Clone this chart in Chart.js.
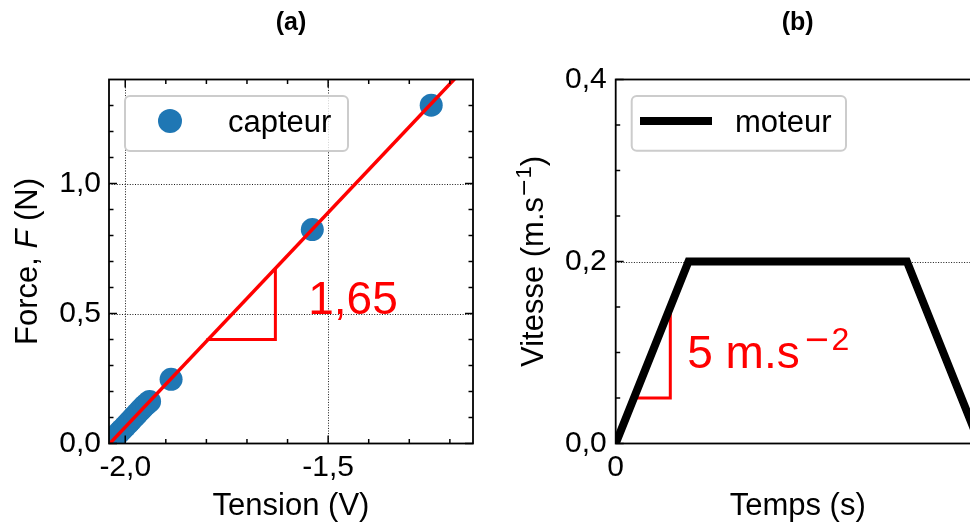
<!DOCTYPE html>
<html><head><meta charset="utf-8">
<script src="https://cdn.jsdelivr.net/npm/chart.js@4.4.1/dist/chart.umd.min.js"></script>
<style>
html,body{margin:0;padding:0;background:#fff;}
body{width:970px;height:524px;overflow:hidden;position:relative;}
canvas{position:absolute;top:0;}
#cA{left:0;} #cB{left:495px;}
</style></head><body>
<canvas id="cA" width="495" height="524"></canvas>
<canvas id="cB" width="530" height="524"></canvas>
<script>
// ---------- Panel (a): capteur ----------
const tensionV = [-2.030, -2.022, -2.015, -2.008, -2.000, -1.992, -1.985, -1.977, -1.970, -1.962, -1.955, -1.947, -1.940, -1.887, -1.539, -1.246];
const forceN   = [0.018, 0.030, 0.042, 0.053, 0.066, 0.079, 0.091, 0.104, 0.116, 0.129, 0.141, 0.152, 0.162, 0.247, 0.823, 1.301];
const fitTension = [-2.04, -1.143];
const fitForce   = [-0.003, 1.477];
const triTensionA = [-1.80, -1.63, -1.63];
const triForceA   = [0.40, 0.40, 0.676];
const slopeTextA = '1,65';
const xMajorA = [-2.0, -1.5];
const xTickLabelsA = ['-2,0', '-1,5'];
const xMinorA = [-1.9, -1.8, -1.7, -1.6, -1.4, -1.3, -1.2];
const yMajorA = [0, 0.5, 1.0];
const yTickLabelsA = ['0,0', '0,5', '1,0'];
const yMinorA = [0.1, 0.2, 0.3, 0.4, 0.6, 0.7, 0.8, 0.9, 1.1, 1.2, 1.3];

// ---------- Panel (b): moteur ----------
const tempsS  = [0, 0.04, 0.16, 0.20];
const vitesse = [0, 0.20, 0.20, 0];
const triTempsB = [0.011, 0.03, 0.03];
const triVitesseB = [0.05, 0.05, 0.15];
const xMajorB = [0];
const xTickLabelsB = ['0'];
const yMajorB = [0, 0.2, 0.4];
const yTickLabelsB = ['0,0', '0,2', '0,4'];
const yMinorB = [0.05, 0.10, 0.15, 0.25, 0.30, 0.35];

const FONT = "'Liberation Sans', Arial, Helvetica, sans-serif";
const MATHFONT = "'DejaVu Sans', sans-serif";
Chart.defaults.font.family = FONT;
Chart.defaults.color = '#000';

function setFont(ctx, size, style, fam) { ctx.font = ((style || '') + ' ' + size + 'px ' + (fam || FONT)).trim(); }
function runsWidth(ctx, runs) {
  let w = 0;
  for (const r of runs) { setFont(ctx, r.size, r.style, r.fam); w += ctx.measureText(r.text).width + (r.gap || 0); }
  return w;
}
function drawRuns(ctx, runs, x, y, align) {
  const w = runsWidth(ctx, runs);
  let cx = align === 'center' ? x - w / 2 : (align === 'right' ? x - w : x);
  ctx.textAlign = 'left'; ctx.textBaseline = 'alphabetic';
  for (const r of runs) {
    setFont(ctx, r.size, r.style, r.fam);
    ctx.fillText(r.text, cx, y - (r.rise || 0));
    cx += ctx.measureText(r.text).width + (r.gap || 0);
  }
}
function seg(ctx, x1, y1, x2, y2) { ctx.beginPath(); ctx.moveTo(x1, y1); ctx.lineTo(x2, y2); ctx.stroke(); }
function roundRect(ctx, x, y, w, h, r) {
  ctx.beginPath();
  ctx.moveTo(x + r, y); ctx.lineTo(x + w - r, y); ctx.arcTo(x + w, y, x + w, y + r, r);
  ctx.lineTo(x + w, y + h - r); ctx.arcTo(x + w, y + h, x + w - r, y + h, r);
  ctx.lineTo(x + r, y + h); ctx.arcTo(x, y + h, x, y + h - r, r);
  ctx.lineTo(x, y + r); ctx.arcTo(x, y, x + r, y, r); ctx.closePath();
}

function decor(spec) {
  return {
    id: 'decor' + spec.id,
    beforeDatasetsDraw(chart) {
      const { ctx, chartArea: a, scales: { x, y } } = chart;
      ctx.save();
      ctx.beginPath(); ctx.rect(a.left, a.top, a.width, a.height); ctx.clip();
      ctx.strokeStyle = 'rgba(0,0,0,0.9)'; ctx.lineWidth = 1; ctx.setLineDash([1, 1.6]);
      for (const v of spec.gridX) { const p = Math.round(x.getPixelForValue(v)) + 0.5; seg(ctx, p, a.top, p, a.bottom); }
      for (const v of spec.gridY) { const p = Math.round(y.getPixelForValue(v)) + 0.5; seg(ctx, a.left, p, a.right, p); }
      ctx.restore();
    },
    afterDatasetsDraw(chart) {
      const { ctx, chartArea: a, scales: { x, y } } = chart;
      ctx.save();
      ctx.fillStyle = '#ff0000';
      const an = spec.annot;
      drawRuns(ctx, an.runs, x.getPixelForValue(an.x), y.getPixelForValue(an.y), 'left');
      ctx.strokeStyle = '#000'; ctx.lineWidth = 1.5;
      const T = spec.ticks;
      const doX = (vals, len) => {
        for (const v of vals) {
          const p = x.getPixelForValue(v);
          if (T.bottom) seg(ctx, p, a.bottom, p, a.bottom - len);
          if (T.top) seg(ctx, p, a.top, p, a.top + len);
        }
      };
      const doY = (vals, len) => {
        for (const v of vals) {
          const p = y.getPixelForValue(v);
          if (T.left) seg(ctx, a.left, p, a.left + len, p);
          if (T.right) seg(ctx, a.right, p, a.right - len, p);
        }
      };
      doX(T.xMajor, 8); doX(T.xMinor, 4.5); doY(T.yMajor, 8); doY(T.yMinor, 4.5);
      ctx.lineWidth = 1.8;
      ctx.strokeRect(a.left, a.top, a.width, a.height);
      ctx.restore();
    },
    afterDraw(chart) {
      const { ctx, chartArea: a } = chart;
      ctx.save();
      ctx.fillStyle = '#000';
      const cx = (a.left + a.right) / 2, cy = (a.top + a.bottom) / 2;
      drawRuns(ctx, [{ text: spec.title, size: 25, style: 'bold' }], cx, 30, 'center');
      drawRuns(ctx, spec.xTitle, cx, 515, 'center');
      ctx.save();
      ctx.translate(spec.yTitleX, cy);
      ctx.rotate(-Math.PI / 2);
      drawRuns(ctx, spec.yTitle, 0, 0, 'center');
      ctx.restore();
      const L = spec.legend;
      const ds = chart.data.datasets[0];
      roundRect(ctx, a.left + L.dx, a.top + L.dy, L.w, L.h, 5);
      ctx.fillStyle = 'rgba(255,255,255,0.8)'; ctx.fill();
      ctx.strokeStyle = '#cccccc'; ctx.lineWidth = 2; ctx.stroke();
      const my = a.top + L.dy + 25;
      if (L.kind === 'point') {
        ctx.fillStyle = ds.backgroundColor;
        ctx.beginPath(); ctx.arc(a.left + L.dx + L.mx, my, 12, 0, Math.PI * 2); ctx.fill();
      } else {
        ctx.strokeStyle = ds.borderColor; ctx.lineWidth = ds.borderWidth;
        seg(ctx, a.left + L.dx + L.mx - 36, my, a.left + L.dx + L.mx + 36, my);
      }
      ctx.fillStyle = '#000';
      drawRuns(ctx, [{ text: ds.label, size: 31 }], a.left + L.dx + L.tx, a.top + L.dy + 36, 'left');
      ctx.restore();
    }
  };
}

const pts = (xs, ys) => xs.map((v, i) => ({ x: v, y: ys[i] }));
const tickFont = { size: 30, family: FONT };

// ---------- Chart (a) ----------
new Chart(document.getElementById('cA'), {
  type: 'scatter',
  data: {
    datasets: [
      { label: 'capteur', data: pts(tensionV, forceN), backgroundColor: '#1f77b4', borderWidth: 0,
        pointRadius: 11.5, pointHoverRadius: 11.5, clip: 0, order: 3 },
      { label: 'ajustement', data: pts(fitTension, fitForce), showLine: true, borderColor: '#ff0000',
        borderWidth: 3.5, pointRadius: 0, clip: 0, order: 1 },
      { label: 'pente', data: pts(triTensionA, triForceA), showLine: true, borderColor: '#ff0000',
        borderWidth: 3, pointRadius: 0, clip: 0, order: 2, borderJoinStyle: 'miter' }
    ]
  },
  options: {
    responsive: false, animation: false, devicePixelRatio: 1,
    layout: { padding: { top: 79.5, right: 22, bottom: 0, left: 0 } },
    plugins: { legend: { display: false }, tooltip: { enabled: false } },
    scales: {
      x: { type: 'linear', min: -2.04, max: -1.143,
        grid: { display: false, drawTicks: false }, border: { display: false },
        ticks: { font: tickFont, color: '#000', padding: 6, maxRotation: 0, autoSkip: false,
          callback: (v, i) => xTickLabelsA[i] },
        afterBuildTicks: ax => { ax.ticks = xMajorA.map(v => ({ value: v })); },
        afterFit: ax => { ax.height = 80.5; } },
      y: { type: 'linear', min: 0, max: 1.4,
        grid: { display: false, drawTicks: false }, border: { display: false },
        ticks: { font: tickFont, color: '#000', padding: 8, autoSkip: false,
          callback: (v, i) => yTickLabelsA[i] },
        afterBuildTicks: ax => { ax.ticks = yMajorA.map(v => ({ value: v })); },
        afterFit: ax => { ax.width = 109; } }
    }
  },
  plugins: [decor({
    id: 'A', title: '(a)',
    gridX: xMajorA, gridY: [0.5, 1.0],
    ticks: { xMajor: xMajorA, xMinor: xMinorA, yMajor: yMajorA, yMinor: yMinorA, top: true, bottom: true, left: true, right: true },
    annot: { x: -1.549, y: 0.50, runs: [{ text: slopeTextA, size: 46 }] },
    xTitle: [{ text: 'Tension (V)', size: 31 }],
    yTitle: [{ text: 'Force, ', size: 31 }, { text: 'F', size: 31, style: 'italic' }, { text: ' (N)', size: 31 }],
    yTitleX: 36.7,
    legend: { kind: 'point', dx: 16, dy: 16.5, w: 223, h: 55, mx: 45, tx: 103 }
  })]
});

// ---------- Chart (b) ----------
new Chart(document.getElementById('cB'), {
  type: 'scatter',
  data: {
    datasets: [
      { label: 'moteur', data: pts(tempsS, vitesse), showLine: true, borderColor: '#000000',
        borderWidth: 8, pointRadius: 0, clip: 0, order: 1, borderJoinStyle: 'miter', borderCapStyle: 'butt' },
      { label: 'pente', data: pts(triTempsB, triVitesseB), showLine: true, borderColor: '#ff0000',
        borderWidth: 3, pointRadius: 0, clip: 0, order: 2, borderJoinStyle: 'miter' }
    ]
  },
  options: {
    responsive: false, animation: false, devicePixelRatio: 1,
    layout: { padding: { top: 79.5, right: 45.3, bottom: 0, left: 0 } },
    plugins: { legend: { display: false }, tooltip: { enabled: false } },
    scales: {
      x: { type: 'linear', min: 0, max: 0.2,
        grid: { display: false, drawTicks: false }, border: { display: false },
        ticks: { font: tickFont, color: '#000', padding: 6, maxRotation: 0, autoSkip: false,
          callback: (v, i) => xTickLabelsB[i] },
        afterBuildTicks: ax => { ax.ticks = xMajorB.map(v => ({ value: v })); },
        afterFit: ax => { ax.height = 80.5; } },
      y: { type: 'linear', min: 0, max: 0.4,
        grid: { display: false, drawTicks: false }, border: { display: false },
        ticks: { font: tickFont, color: '#000', padding: 9, autoSkip: false,
          callback: (v, i) => yTickLabelsB[i] },
        afterBuildTicks: ax => { ax.ticks = yMajorB.map(v => ({ value: v })); },
        afterFit: ax => { ax.width = 120.7; } }
    }
  },
  plugins: [decor({
    id: 'B', title: '(b)',
    gridX: [], gridY: [0.2],
    ticks: { xMajor: [], xMinor: [], yMajor: yMajorB, yMinor: yMinorB, top: false, bottom: false, left: true, right: false },
    annot: { x: 0.0393, y: 0.083, runs: [
      { text: '5 m.s', size: 46, gap: 4 },
      { text: '−', size: 32, rise: 18, fam: MATHFONT, gap: 1 },
      { text: '2', size: 32, rise: 18 }] },
    xTitle: [{ text: 'Temps (s)', size: 31 }],
    yTitle: [{ text: 'Vitesse (m.s', size: 31 },
      { text: '−', size: 22, rise: 12, fam: MATHFONT },
      { text: '1', size: 22, rise: 12 }, { text: ')', size: 31 }],
    yTitleX: 48.3,
    legend: { kind: 'line', dx: 16, dy: 16.5, w: 214.3, h: 54.7, mx: 44.3, tx: 103.3 }
  })]
});
</script>
</body></html>
